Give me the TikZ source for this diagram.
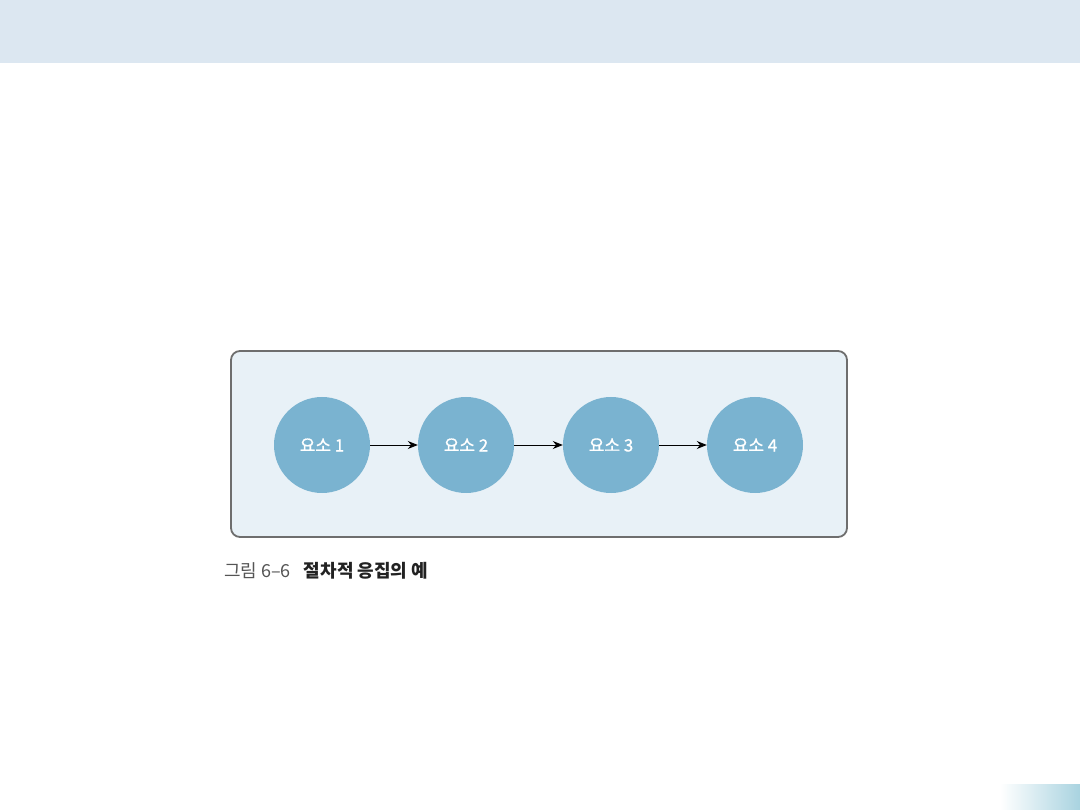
\documentclass[tikz,border=0pt]{standalone}
\usepackage{fontspec}
\setmainfont{Noto Sans CJK KR}
\newfontfamily\kr{Noto Sans CJK KR}
\newfontfamily\krmed[FakeBold=0.9]{Noto Sans CJK KR}
\usetikzlibrary{arrows.meta}
\definecolor{band}{HTML}{DCE7F1}
\definecolor{boxfill}{HTML}{E8F1F7}
\definecolor{boxline}{HTML}{6E6E6E}
\definecolor{circ}{HTML}{7AB3D0}
\definecolor{grad}{HTML}{A9D3E0}
\begin{document}
\begin{tikzpicture}[x=1pt,y=-1pt,
  elem/.style={circle,fill=circ,minimum size=96pt,inner sep=0pt,text=white,font=\krmed\fontsize{17}{17}\selectfont},
  flow/.style={-{Stealth[length=10pt,width=8pt]},line width=0.9pt,black}]
\useasboundingbox (0,0) rectangle (1080,810);
\fill[white] (0,0) rectangle (1080,810);
\fill[band] (0,0) rectangle (1080,63);
\shade[left color=white,right color=grad] (1000,784) rectangle (1080,810);
\node[draw=boxline,line width=1.8pt,fill=boxfill,rounded corners=9pt,minimum width=616pt,minimum height=186pt,inner sep=0pt] (frame) at (539,444) {};
\node[elem] (e1) at (322,445) {요소 1};
\node[elem] (e2) at (466,445) {요소 2};
\node[elem] (e3) at (611,445) {요소 3};
\node[elem] (e4) at (755,445) {요소 4};
\draw[flow] (e1) -- (e2);
\draw[flow] (e2) -- (e3);
\draw[flow] (e3) -- (e4);
\node[anchor=west,inner sep=0pt,font=\kr\fontsize{18}{18}\selectfont] (cap) at (224,571) {\textcolor[HTML]{555555}{그림 6–6}\hspace{13pt}\textcolor[HTML]{222222}{\bfseries 절차적 응집의 예}};
\end{tikzpicture}
\end{document}
